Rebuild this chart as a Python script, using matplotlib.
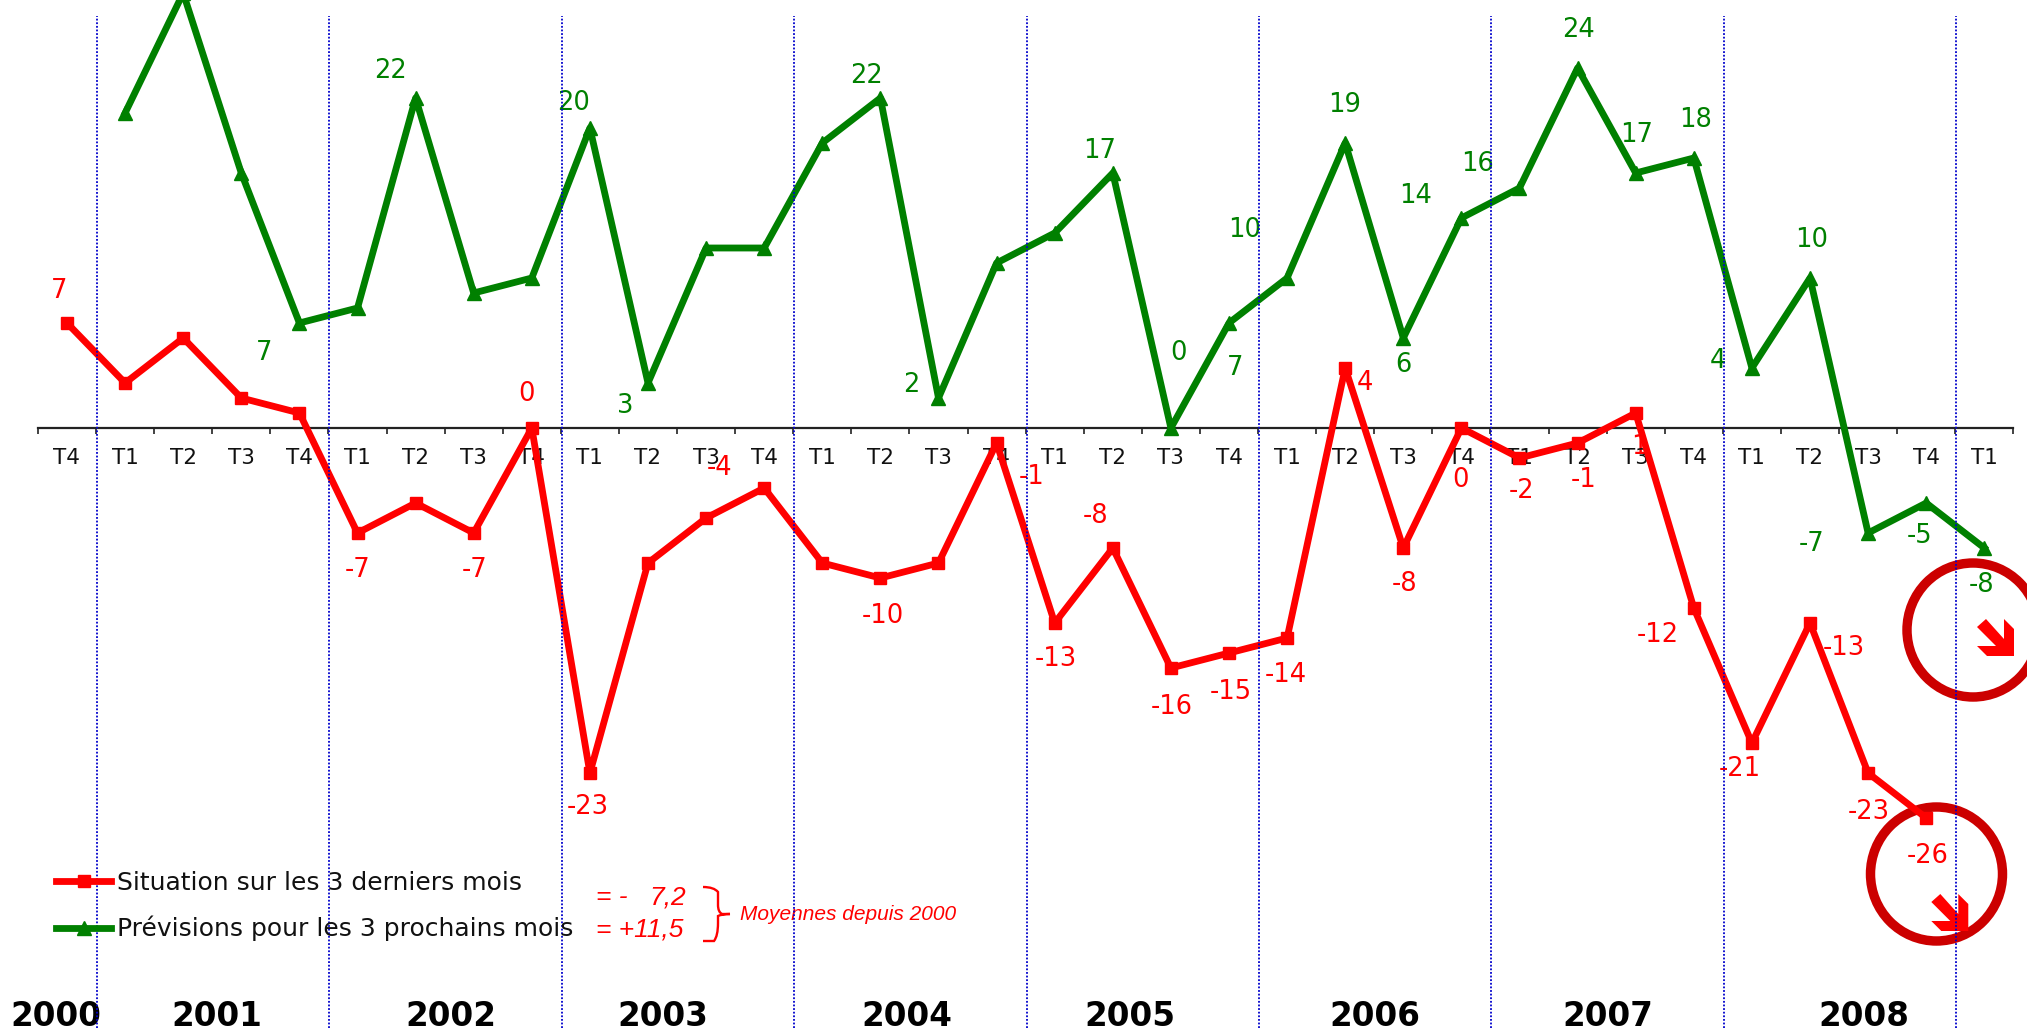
#!/usr/bin/env python3
"""Situation / previsions par trimestre, 2000-2009"""
import numpy as np
import matplotlib
matplotlib.use('Agg')
import matplotlib.pyplot as plt
from matplotlib.patches import Ellipse, Polygon, PathPatch
from matplotlib.path import Path

W, H = 2027, 1030
RED = '#FF0000'
GREEN = '#008000'
DARK_RED = '#CC0000'
BLUE = '#0000CC'

quarters = ['T4'] + ['T1', 'T2', 'T3', 'T4'] * 8 + ['T1']
situation = [7, 3, 6, 2, 1, -7, -5, -7, 0, -23, -9, -6, -4, -9, -10, -9, -1,
             -13, -8, -16, -15, -14, 4, -8, 0, -2, -1, 1, -12, -21, -13, -23, -26]
previsions = [21, 29, 17, 7, 8, 22, 9, 10, 20, 3, 12, 12, 19, 22, 2, 11, 13, 17,
              0, 7, 10, 19, 6, 14, 16, 24, 17, 18, 4, 10, -7, -5, -8]

# libelles affiches et leur place (pixels du dessin)
sit_labels = ['7', '0', '-7', '-7', '-23', '-4', '-10', '-1', '-13', '-8', '-16', '-15',
              '-14', '4', '-8', '0', '-2', '-1', '1', '-12', '-21', '-13', '-23', '-26']
sit_pos = [(59, 291), (527, 394), (358, 570), (475, 570), (588, 807), (720, 468),
           (883, 616), (1032, 477), (1056, 659), (1096, 516), (1172, 707), (1231, 692),
           (1286, 675), (1365, 383), (1405, 584), (1461, 480), (1522, 491), (1584, 480),
           (1639, 447), (1658, 635), (1740, 769), (1844, 648), (1869, 812), (1928, 856)]
prev_labels = ['7', '22', '20', '3', '22', '2', '17', '0', '7', '10', '19', '14', '6',
               '16', '24', '17', '18', '4', '10', '-7', '-5', '-8']
prev_pos = [(264, 353), (390, 71), (574, 103), (625, 406), (866, 76), (911, 385),
            (1100, 151), (1179, 353), (1235, 368), (1245, 230), (1345, 105), (1416, 196),
            (1403, 365), (1477, 164), (1579, 30), (1637, 135), (1696, 120), (1718, 361),
            (1812, 240), (1812, 544), (1920, 536), (1982, 585)]

year_names = ['2000', '2001', '2002', '2003', '2004', '2005', '2006', '2007', '2008']
year_x = [56, 217, 451, 663, 907, 1130, 1375, 1608, 1864]

X0, DX = 67.0, 58.1
Y0, DY = 428.0, 15.0
xs = np.arange(len(quarters))

fig = plt.figure(figsize=(W / 100, H / 100), dpi=100, facecolor='white')

# fond en pixels : textes, cercles, fleches
over = fig.add_axes([0, 0, 1, 1], zorder=1)
over.set_xlim(0, W)
over.set_ylim(H, 0)
over.axis('off')

ax = fig.add_axes([0, 0, 1, 1], zorder=2)
ax.patch.set_alpha(0)
ax.set_xlim(-X0 / DX, (W - X0) / DX)
ax.set_ylim((Y0 - H) / DY, Y0 / DY)

ax.vlines(np.arange(0.5, 33, 4) + 0.015, (Y0 - 1028) / DY, (Y0 - 16) / DY, color=BLUE,
          linestyles=(0, (1, 1)), linewidth=1.3, zorder=5)

ax.plot(xs[:len(situation)], situation, color=RED, lw=4.9, marker='s', ms=8.4,
        label='Situation sur les 3 derniers mois', zorder=3)
ax.plot(xs[1:], previsions, color=GREEN, lw=4.9, marker='^', ms=9.5,
        label='Prévisions pour les 3 prochains mois', zorder=3)

# axe horizontal sur le zero
for s in ['top', 'left', 'right']:
    ax.spines[s].set_visible(False)
ax.spines['bottom'].set_position(('data', 0))
ax.spines['bottom'].set_bounds(-0.5, 33.5)
ax.spines['bottom'].set_linewidth(1.6)
ax.spines['bottom'].set_color('#222222')
ax.set_yticks([])
ax.set_xticks(np.arange(-0.5, 34, 1))
ax.set_xticklabels([])
ax.set_xticks(xs, labels=quarters, minor=True)
ax.tick_params(axis='x', which='major', length=4.5, width=1.2, color='#222222')
ax.tick_params(axis='x', which='minor', length=0, pad=14.5, labelsize=15.5, labelcolor='#111111')

leg = ax.legend(loc='upper left', bbox_to_anchor=(56 / W, 1 - 871 / H), frameon=False,
                fontsize=18, borderpad=0, borderaxespad=0, handlelength=2.2,
                handletextpad=0.24, labelspacing=0.83, labelcolor='#111111')

for txt, (px, py) in zip(sit_labels, sit_pos):
    over.text(px, py, txt, color=RED, fontsize=18.5, ha='center', va='center')
for txt, (px, py) in zip(prev_labels, prev_pos):
    over.text(px, py, txt, color=GREEN, fontsize=18.5, ha='center', va='center')
for txt, px in zip(year_names, year_x):
    over.text(px, 1017, txt, color='black', fontsize=23.5, fontweight='bold', ha='center', va='center')

# moyennes
note = dict(color=RED, style='italic', family='Liberation Sans', va='center')
over.text(596, 897, '= -', fontsize=19, **note)
over.text(686, 897, '7,2', ha='right', fontsize=19, **note)
over.text(596, 930, '= +11,5', fontsize=19, **note)
over.text(740, 914, 'Moyennes depuis 2000', fontsize=15, **note)
brace = Path([(703, 887), (714, 887), (718, 892), (718, 905), (718, 912), (722, 914), (730, 914),
              (722, 914), (718, 916), (718, 923), (718, 936), (714, 941), (703, 941)],
             [Path.MOVETO, Path.CURVE3, Path.CURVE3, Path.LINETO, Path.CURVE3, Path.CURVE3,
              Path.LINETO, Path.CURVE3, Path.CURVE3, Path.LINETO, Path.CURVE3, Path.CURVE3, Path.LINETO])
over.add_patch(PathPatch(brace, fc='none', ec=RED, lw=1.7))

# cercles et fleches
arrow = np.array([(2014, 656), (2014, 629), (2004, 619), (2004, 639), (1986, 619),
                  (1977, 627), (1996, 646), (1977, 646), (1987, 656)], dtype=float)
over.add_patch(Ellipse((1973, 630), 132, 134, fc='none', ec=DARK_RED, lw=6.8))
over.add_patch(Ellipse((1936.5, 874), 132, 134, fc='none', ec=DARK_RED, lw=6.8))
over.add_patch(Polygon(arrow, closed=True, fc=RED, ec='none'))
over.add_patch(Polygon(arrow + [-45.7, 275], closed=True, fc=RED, ec='none'))

fig.savefig('out.png', dpi=100, facecolor='white')
